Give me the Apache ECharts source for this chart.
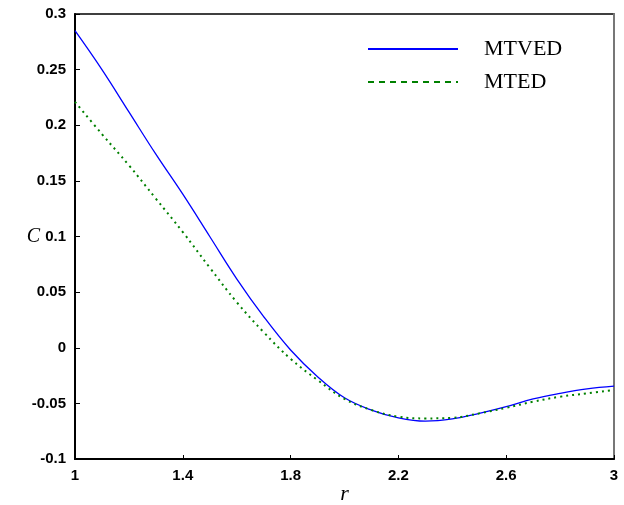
<!DOCTYPE html>
<html>
<head>
<meta charset="utf-8">
<script src="https://cdn.jsdelivr.net/npm/echarts@6/dist/echarts.min.js"></script>
<style>
  html, body { margin: 0; padding: 0; background: #fff; }
  #main { width: 624px; height: 505px; }
</style>
</head>
<body>
<div id="main"></div>
<script>
// r values (x axis)
var rVals = [1.0, 1.1, 1.2, 1.3, 1.4, 1.5, 1.6, 1.7, 1.8, 1.9, 2.0,
             2.1, 2.2, 2.3, 2.4, 2.5, 2.6, 2.7, 2.8, 2.9, 3.0];
// MTVED (blue, solid)
var mtved = [0.285, 0.250, 0.212, 0.174, 0.138, 0.100, 0.062, 0.028, -0.002, -0.026, -0.045,
             -0.056, -0.063, -0.066, -0.064, -0.059, -0.053, -0.046, -0.041, -0.037, -0.0345];
// MTED (green, dotted)
var mted = [0.221, 0.192, 0.164, 0.134, 0.104, 0.072, 0.041, 0.014, -0.010, -0.029, -0.046,
            -0.056, -0.062, -0.0635, -0.063, -0.059, -0.054, -0.0485, -0.044, -0.041, -0.038];
var xTicks = [1, 1.4, 1.8, 2.2, 2.6, 3];

function pairs(ys) {
    var out = [];
    for (var i = 0; i < rVals.length; i++) out.push([rVals[i], ys[i]]);
    return out;
}

var myChart = echarts.init(document.getElementById('main'));
var option = {
    animation: false,
    grid: {
        left: 75, right: 10, top: 14, bottom: 46,
        containLabel: false,
        outerBoundsMode: 'none',
        show: true,
        borderColor: '#000',
        borderWidth: 1.5
    },
    legend: {
        orient: 'vertical',
        left: 362,
        top: 33,
        itemWidth: 90,
        itemHeight: 14,
        itemGap: 11,
        itemStyle: { opacity: 0 },
        textStyle: {
            fontFamily: 'Liberation Serif',
            fontSize: 22,
            color: '#000',
            padding: [0, 0, 0, 21]
        },
        data: [
            { name: 'MTVED' },
            { name: 'MTED', lineStyle: { type: [6, 5], width: 2 } }
        ]
    },
    xAxis: {
        type: 'value',
        min: 1,
        max: 3,
        name: 'r',
        nameLocation: 'middle',
        nameGap: 24,
        nameMoveOverlap: false,
        nameTextStyle: {
            fontFamily: 'Liberation Serif',
            fontStyle: 'italic',
            fontSize: 22,
            color: '#000'
        },
        axisLine: { show: true, onZero: false, lineStyle: { color: '#000', width: 2 } },
        axisTick: {
            show: true, inside: true, length: 4,
            customValues: xTicks,
            lineStyle: { color: '#000', width: 1 }
        },
        axisLabel: {
            customValues: xTicks,
            margin: 9,
            fontFamily: 'Liberation Sans',
            fontWeight: 'bold',
            fontSize: 15,
            color: '#000'
        },
        splitLine: { show: false }
    },
    yAxis: [{
        type: 'value',
        min: -0.1,
        max: 0.3,
        interval: 0.05,
        name: 'C',
        nameLocation: 'middle',
        nameRotate: 0,
        nameGap: 35,
        nameMoveOverlap: false,
        nameTextStyle: {
            fontFamily: 'Liberation Serif',
            fontStyle: 'italic',
            fontSize: 20,
            color: '#000',
            padding: [6, 0, 0, 0]
        },
        axisLine: { show: true, onZero: false, lineStyle: { color: '#000', width: 2 } },
        axisTick: { show: true, inside: true, length: 5, lineStyle: { color: '#000', width: 1 } },
        axisLabel: {
            margin: 9,
            fontFamily: 'Liberation Sans',
            fontWeight: 'bold',
            fontSize: 15,
            color: '#000',
            formatter: function (v) { return String(+v.toFixed(2)); }
        },
        splitLine: { show: false }
    }, {
        type: 'value',
        position: 'right',
        min: -0.1,
        max: 0.3,
        interval: 0.05,
        axisLine: { show: true, onZero: false, lineStyle: { color: '#777', width: 2 } },
        axisTick: { show: false },
        axisLabel: { show: false },
        splitLine: { show: false }
    }],
    series: [
        {
            name: 'MTVED',
            type: 'line',
            data: pairs(mtved),
            smooth: 0.4,
            symbol: 'none',
            color: '#0000ff',
            lineStyle: { color: '#0000ff', width: 1.3 }
        },
        {
            name: 'MTED',
            type: 'line',
            data: pairs(mted),
            smooth: 0.4,
            symbol: 'none',
            color: '#008000',
            lineStyle: { color: '#008000', width: 2, type: [2, 4] }
        }
    ]
};
myChart.setOption(option);
</script>
</body>
</html>
